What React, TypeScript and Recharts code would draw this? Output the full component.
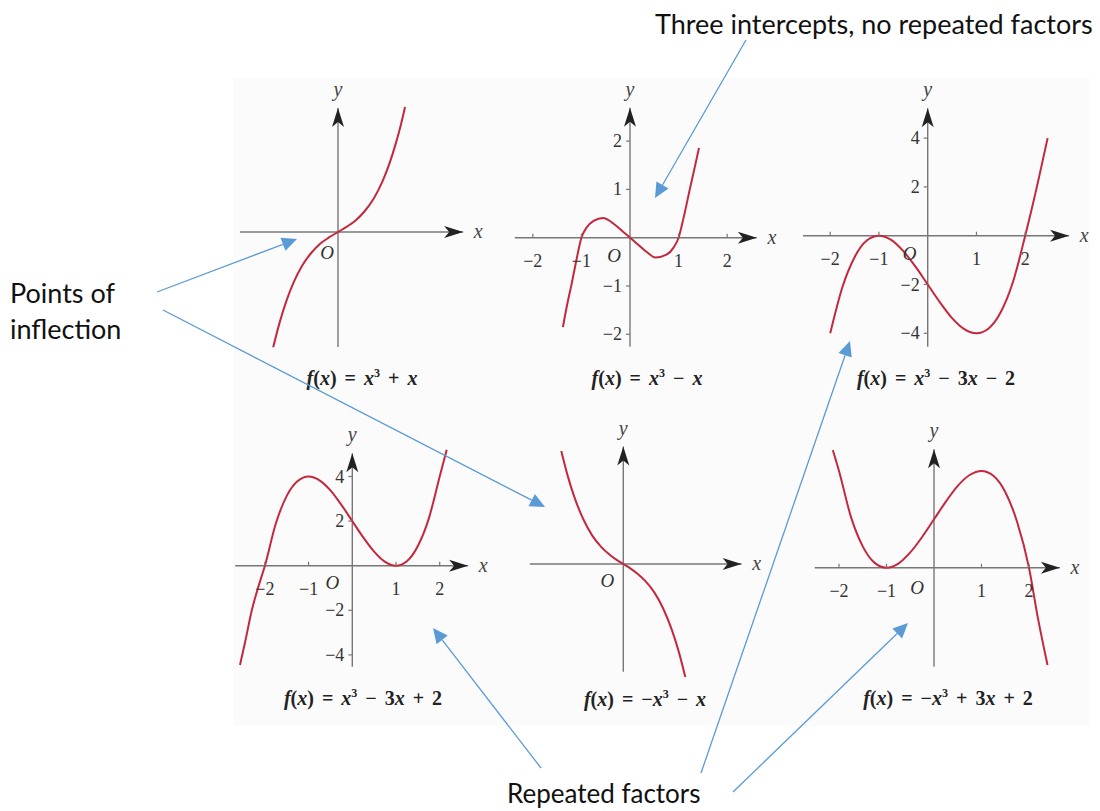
import React from 'react';
import { LineChart, Line, XAxis, YAxis, ReferenceLine, ReferenceDot } from 'recharts';

// curve readings, one pair of arrays per panel
const p1X = [-1.45, -1.3, -1.15, -1.0, -0.8, -0.6, -0.4, -0.2, 0, 0.2, 0.4, 0.6, 0.8, 1.0, 1.15, 1.3, 1.4, 1.5];
const p1Y = [-4.5, -3.5, -2.67, -2.0, -1.31, -0.82, -0.46, -0.21, 0, 0.21, 0.46, 0.82, 1.31, 2.0, 2.67, 3.5, 4.14, 4.88];

const p2X = [-1.38, -1.3, -1.2, -1.1, -1.0, -0.9, -0.75, -0.55, -0.35, -0.15, 0, 0.15, 0.35, 0.52, 0.75, 0.9, 1.0, 1.1, 1.23, 1.32, 1.42];
const p2Y = [-1.85, -1.42, -0.95, -0.45, 0, 0.2, 0.35, 0.41, 0.3, 0.13, 0, -0.13, -0.3, -0.41, -0.35, -0.2, 0, 0.4, 1.0, 1.4, 1.86];

const p3X = [-2, -1.75, -1.5, -1.25, -1, -0.75, -0.5, -0.25, 0, 0.25, 0.5, 0.75, 1, 1.25, 1.5, 1.75, 2, 2.24, 2.46];
const p3Y = [-4, -2.11, -0.88, -0.2, 0, -0.17, -0.63, -1.27, -2, -2.73, -3.38, -3.83, -4, -3.8, -3.13, -1.89, 0, 2.0, 4.0];

const p4X = [-2.57, -2.45, -2.3, -2.15, -2, -1.75, -1.5, -1.25, -1, -0.75, -0.5, -0.25, 0, 0.25, 0.5, 0.75, 1, 1.25, 1.5, 1.75, 2, 2.16];
const p4Y = [-4.45, -3.4, -2.0, -0.95, 0, 1.89, 3.13, 3.8, 4, 3.83, 3.38, 2.73, 2, 1.27, 0.63, 0.17, 0, 0.2, 0.88, 2.11, 4.0, 5.2];

const p5X = [-1.4, -1.25, -1.1, -0.9, -0.7, -0.5, -0.3, -0.15, 0, 0.15, 0.3, 0.5, 0.7, 0.9, 1.1, 1.25, 1.4];
const p5Y = [4.14, 3.2, 2.43, 1.63, 1.04, 0.63, 0.33, 0.15, 0, -0.15, -0.33, -0.63, -1.04, -1.63, -2.43, -3.2, -4.14];

const p6X = [-2.13, -2, -1.75, -1.5, -1.25, -1, -0.75, -0.5, -0.25, 0, 0.25, 0.5, 0.75, 1, 1.25, 1.5, 1.75, 2, 2.18, 2.39];
const p6Y = [4.86, 4, 2.11, 0.88, 0.2, 0, 0.17, 0.63, 1.27, 2, 2.73, 3.38, 3.83, 4, 3.8, 3.13, 1.89, 0, -2.0, -4.02];

// tick values
const ticksPM2 = [-2, -1, 1, 2];
const ticksPM4 = [-4, -2, 2, 4];

const captions = [
  'f(x) = x³ + x',
  'f(x) = x³ − x',
  'f(x) = x³ − 3x − 2',
  'f(x) = x³ − 3x + 2',
  'f(x) = −x³ − x',
  'f(x) = −x³ + 3x + 2',
];

const RED = '#c4283c';
const AXIS = '#777';
const BLUE = '#5b9bd5';
const SERIF = '"Liberation Serif", "DejaVu Serif", serif';

const fmt = (v: number) => (v < 0 ? '−' + Math.abs(v) : String(v));

const Caption = ({ text, cx, cy }: { text: string; cx: number; cy: number }) => (
  <div
    style={{
      position: 'absolute',
      left: cx,
      top: cy,
      transform: 'translate(-50%, -50%)',
      whiteSpace: 'nowrap',
      fontFamily: SERIF,
      fontWeight: 'bold',
      fontSize: 20,
      wordSpacing: 3,
      color: '#222',
    }}
  >
    {text.split('').map((ch, i) =>
      ch === 'f' || ch === 'x' ? (
        <i key={i}>{ch}</i>
      ) : ch === '³' ? (
        <sup key={i} style={{ fontSize: 12 }}>3</sup>
      ) : (
        <span key={i}>{ch}</span>
      )
    )}
  </div>
);

interface PanelProps {
  xs: number[];
  ys: number[];
  box: [number, number, number, number];
  origin: [number, number];
  scale: [number, number];
  xAxisRange: [number, number];
  yAxisRange: [number, number];
  xTicks?: number[];
  yTicks?: number[];
  oOffset: [number, number];
}

const Panel = ({ xs, ys, box, origin, scale, xAxisRange, yAxisRange, xTicks = [], yTicks = [], oOffset }: PanelProps) => {
  const [L, T, W, H] = box;
  const [ox, oy] = origin;
  const [sx, sy] = scale;
  const xDomain: [number, number] = [(L - ox) / sx, (L + W - ox) / sx];
  const yDomain: [number, number] = [(oy - T - H) / sy, (oy - T) / sy];
  const rows = xs.map((x, i) => ({ x, y: ys[i] }));

  return (
    <div style={{ position: 'absolute', left: L, top: T }}>
      <LineChart width={W} height={H} data={rows} margin={{ top: 0, right: 0, bottom: 0, left: 0 }}>
        <XAxis dataKey="x" type="number" domain={xDomain} allowDataOverflow hide />
        <YAxis type="number" domain={yDomain} allowDataOverflow hide />
        <ReferenceLine segment={[{ x: xAxisRange[0], y: 0 }, { x: xAxisRange[1], y: 0 }]} stroke={AXIS} strokeWidth={1.4} />
        <ReferenceLine segment={[{ x: 0, y: yAxisRange[0] }, { x: 0, y: yAxisRange[1] }]} stroke={AXIS} strokeWidth={1.4} />
        {xTicks.map((t) => (
          <ReferenceDot
            key={'xt' + t}
            x={t}
            y={0}
            r={0}
            shape={(p: any) => (
              <g>
                <line x1={p.cx} y1={p.cy} x2={p.cx} y2={p.cy - 4} stroke={AXIS} strokeWidth={1.2} />
                <text x={p.cx} y={p.cy + 29} textAnchor="middle" fontFamily={SERIF} fontSize={18} fill="#333">
                  {fmt(t)}
                </text>
              </g>
            )}
          />
        ))}
        {yTicks.map((t) => (
          <ReferenceDot
            key={'yt' + t}
            x={0}
            y={t}
            r={0}
            shape={(p: any) => (
              <g>
                <line x1={p.cx} y1={p.cy} x2={p.cx - 4} y2={p.cy} stroke={AXIS} strokeWidth={1.2} />
                <text x={p.cx - 8} y={p.cy + 6} textAnchor="end" fontFamily={SERIF} fontSize={18} fill="#333">
                  {fmt(t)}
                </text>
              </g>
            )}
          />
        ))}
        <ReferenceDot
          x={xAxisRange[1]}
          y={0}
          r={0}
          shape={(p: any) => (
            <g>
              <path d={`M${p.cx},${p.cy} L${p.cx - 19},${p.cy - 6} L${p.cx - 14},${p.cy} L${p.cx - 19},${p.cy + 6} Z`} fill="#222" />
              <text x={p.cx + 15} y={p.cy + 6} textAnchor="middle" fontFamily={SERIF} fontStyle="italic" fontSize={20} fill="#444">
                x
              </text>
            </g>
          )}
        />
        <ReferenceDot
          x={0}
          y={yAxisRange[1]}
          r={0}
          shape={(p: any) => (
            <g>
              <path d={`M${p.cx},${p.cy} L${p.cx - 6},${p.cy + 19} L${p.cx},${p.cy + 14} L${p.cx + 6},${p.cy + 19} Z`} fill="#222" />
              <text x={p.cx} y={p.cy - 12} textAnchor="middle" fontFamily={SERIF} fontStyle="italic" fontSize={20} fill="#444">
                y
              </text>
            </g>
          )}
        />
        <ReferenceDot
          x={0}
          y={0}
          r={0}
          shape={(p: any) => (
            <text x={p.cx + oOffset[0]} y={p.cy + oOffset[1] + 7} textAnchor="middle" fontFamily={SERIF} fontStyle="italic" fontSize={19} fill="#333">
              O
            </text>
          )}
        />
        <Line type="monotone" dataKey="y" stroke={RED} strokeWidth={2} dot={false} isAnimationActive={false} />
      </LineChart>
    </div>
  );
};

// annotation arrows: tail -> tip
const arrows: [number, number, number, number][] = [
  [746, 40, 655, 198],
  [157, 292, 297, 239],
  [163, 310, 545, 507],
  [541, 768, 433, 628],
  [701, 773, 850, 341],
  [733, 792, 908, 623],
];

const Arrow = ({ a }: { a: [number, number, number, number] }) => {
  const [x1, y1, x2, y2] = a;
  const len = Math.hypot(x2 - x1, y2 - y1);
  const ux = (x2 - x1) / len;
  const uy = (y2 - y1) / len;
  const bx = x2 - 15 * ux;
  const by = y2 - 15 * uy;
  const nx = -uy * 7;
  const ny = ux * 7;
  return (
    <g>
      <line x1={x1} y1={y1} x2={bx} y2={by} stroke={BLUE} strokeWidth={1.3} />
      <path d={`M${x2},${y2} L${bx + nx},${by + ny} L${bx - nx},${by - ny} Z`} fill={BLUE} />
    </g>
  );
};

const LABEL_FONT = 'Lato, "Open Sans", sans-serif';

export default function App() {
  return (
    <div style={{ position: 'absolute', left: 0, top: 0, width: 1100, height: 811, background: '#fff', overflow: 'hidden' }}>
      <div style={{ position: 'absolute', left: 233, top: 78, width: 857, height: 648, background: '#fbfbfb' }} />

      <Panel xs={p1X} ys={p1Y} box={[225, 70, 270, 295]} origin={[338, 232]} scale={[44.7, 25.6]}
        xAxisRange={[-2.19, 2.8]} yAxisRange={[-4.49, 4.84]} oOffset={[-11, 20]} />
      <Panel xs={p2X} ys={p2Y} box={[505, 70, 285, 295]} origin={[630, 237.7]} scale={[48.6, 48.3]}
        xAxisRange={[-2.37, 2.61]} yAxisRange={[-2.26, 2.69]} xTicks={ticksPM2} yTicks={ticksPM2} oOffset={[-16, 17]} />
      <Panel xs={p3X} ys={p3Y} box={[790, 70, 305, 295]} origin={[927.7, 235.7]} scale={[48.75, 24.4]}
        xAxisRange={[-2.56, 2.9]} yAxisRange={[-4.55, 5.22]} xTicks={ticksPM2} yTicks={ticksPM4} oOffset={[-18, 17]} />
      <Panel xs={p4X} ys={p4Y} box={[225, 405, 280, 280]} origin={[352.3, 565.7]} scale={[43.7, 22.3]}
        xAxisRange={[-2.68, 2.65]} yAxisRange={[-4.53, 5.04]} xTicks={ticksPM2} yTicks={ticksPM4} oOffset={[-20, 16]} />
      <Panel xs={p5X} ys={p5Y} box={[515, 405, 275, 280]} origin={[623.3, 564]} scale={[44.3, 27.3]}
        xAxisRange={[-2.11, 2.67]} yAxisRange={[-3.95, 4.3]} oOffset={[-16, 16]} />
      <Panel xs={p6X} ys={p6Y} box={[795, 405, 300, 280]} origin={[934, 567.7]} scale={[47.5, 24.2]}
        xAxisRange={[-2.51, 2.65]} yAxisRange={[-4.09, 4.89]} xTicks={ticksPM2} oOffset={[-17, 19]} />

      <Caption text={captions[0]} cx={362} cy={378} />
      <Caption text={captions[1]} cx={647} cy={378} />
      <Caption text={captions[2]} cx={936} cy={378} />
      <Caption text={captions[3]} cx={363} cy={698} />
      <Caption text={captions[4]} cx={645} cy={699} />
      <Caption text={captions[5]} cx={948} cy={698} />

      <svg width={1100} height={811} style={{ position: 'absolute', left: 0, top: 0, pointerEvents: 'none' }}>
        {arrows.map((a, i) => (
          <Arrow key={i} a={a} />
        ))}
        <text x={655} y={34} fontFamily={LABEL_FONT} fontSize={27} fill="#111">Three intercepts, no repeated factors</text>
        <text x={10} y={303} fontFamily={LABEL_FONT} fontSize={27} fill="#111">Points of</text>
        <text x={10} y={339} fontFamily={LABEL_FONT} fontSize={27} fill="#111">inflection</text>
        <text x={507} y={803} fontFamily={LABEL_FONT} fontSize={26} fill="#111">Repeated factors</text>
      </svg>
    </div>
  );
}
